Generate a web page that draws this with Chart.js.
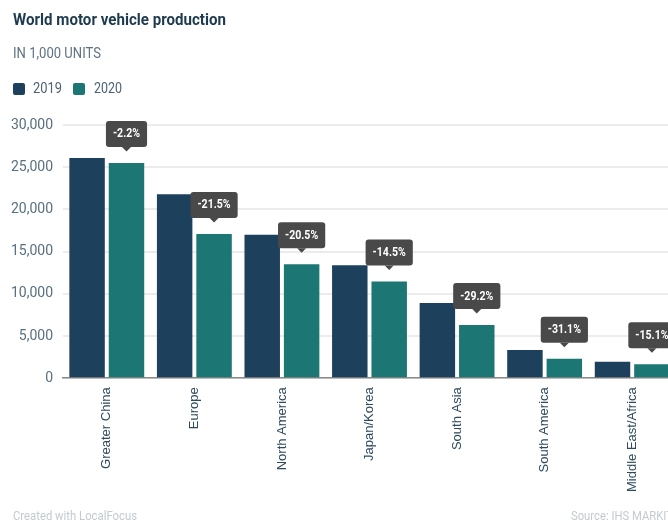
<!DOCTYPE html>
<html>
<head>
<meta charset="utf-8">
<script src="https://cdn.jsdelivr.net/npm/chart.js@4"></script>
<style>
  html, body { margin: 0; padding: 0; background: #fff; width: 668px; height: 524px; overflow: hidden; position: relative; font-family: Roboto, sans-serif; }
  .fit { position: absolute; white-space: nowrap; transform-origin: 0 0; }
  #title { left: 13px; top: 9px; font-size: 17px; font-weight: bold; color: #1e3a4f; }
  #sub { left: 13px; top: 45px; font-size: 14px; color: #5f7383; }
  .sw { position: absolute; top: 83px; width: 12px; height: 12px; border-radius: 2px; }
  .lg { top: 80px; font-size: 14px; color: #4d6272; }
  #foot1 { left: 13px; top: 509px; font-size: 12px; color: #c3cbd1; }
  #foot2 { left: 571px; top: 509px; font-size: 12px; color: #c3cbd1; }
  #wrap { position: absolute; left: 0; top: 0; width: 690px; height: 524px; }
</style>
</head>
<body>
<div id="wrap"><canvas id="c"></canvas></div>
<div id="title" class="fit" data-w="213">World motor vehicle production</div>
<div id="sub" class="fit" data-w="88">IN 1,000 UNITS</div>
<div class="sw" style="left:13px;background:#1d405d"></div>
<div class="fit lg" style="left:33px" data-w="29">2019</div>
<div class="sw" style="left:73px;background:#1c7774"></div>
<div class="fit lg" style="left:94px" data-w="28">2020</div>
<div id="foot1" class="fit" data-w="124">Created with LocalFocus</div>
<div id="foot2" class="fit" data-w="102">Source: IHS MARKIT</div>
<script>
const categories = ["Greater China", "Europe", "North America", "Japan/Korea", "South Asia", "South America", "Middle East/Africa"];
const values2019 = [26100, 21800, 17000, 13400, 8900, 3350, 1950];
const values2020 = [25500, 17100, 13500, 11450, 6300, 2310, 1650];
const changeLabels = ["-2.2%", "-21.5%", "-20.5%", "-14.5%", "-29.2%", "-31.1%", "-15.1%"];
const yTicks = [0, 5000, 10000, 15000, 20000, 25000, 30000];

document.querySelectorAll('.fit[data-w]').forEach(el => {
  const w = el.getBoundingClientRect().width;
  const t = parseFloat(el.dataset.w);
  el.style.transform = 'scaleX(' + (t / w) + ')';
});

const callouts = {
  id: 'callouts',
  afterDatasetsDraw(chart) {
    const ctx = chart.ctx;
    const meta = chart.getDatasetMeta(1);
    ctx.save();
    ctx.font = 'bold 12px Roboto';
    meta.data.forEach((bar, i) => {
      const txt = changeLabels[i];
      const tw = ctx.measureText(txt).width * 0.88;
      const w = tw + 14, h = 26;
      const cx = bar.x;
      const bottom = bar.y - 16;
      const top = bottom - h;
      const left = cx - w / 2;
      ctx.fillStyle = '#494949';
      ctx.beginPath();
      ctx.roundRect(left, top, w, h, 3);
      ctx.fill();
      ctx.beginPath();
      ctx.moveTo(cx - 4.5, bottom);
      ctx.lineTo(cx + 4.5, bottom);
      ctx.lineTo(cx, bottom + 4.5);
      ctx.closePath();
      ctx.fill();
      ctx.fillStyle = '#ffffff';
      ctx.textAlign = 'center';
      ctx.textBaseline = 'middle';
      ctx.save();
      ctx.translate(cx, top + h / 2 + 0.5);
      ctx.scale(0.88, 1);
      ctx.fillText(txt, 0, 0);
      ctx.restore();
    });
    ctx.restore();
  }
};

new Chart(document.getElementById('c'), {
  type: 'bar',
  data: {
    labels: categories,
    datasets: [
      { label: '2019', data: values2019, backgroundColor: '#1d405d', categoryPercentage: 0.9, barPercentage: 0.9 },
      { label: '2020', data: values2020, backgroundColor: '#1c7774', categoryPercentage: 0.9, barPercentage: 0.9 }
    ]
  },
  options: {
    responsive: true,
    maintainAspectRatio: false,
    animation: false,
    events: [],
    layout: { padding: { top: 125, right: 14, bottom: 23, left: 0 } },
    plugins: { legend: { display: false }, tooltip: { enabled: false } },
    scales: {
      x: {
        grid: { display: false, drawTicks: false },
        border: { display: true, color: '#8a8a8a', width: 1.5 },
        ticks: {
          color: '#2e4a5e',
          font: { family: 'Liberation Sans', size: 13 },
          minRotation: 90, maxRotation: 90, padding: 9, autoSkip: false
        }
      },
      y: {
        min: 0, max: 30000,
        afterFit(scale) { scale.width = 63; },
        afterBuildTicks(scale) { scale.ticks = yTicks.map(v => ({ value: v })); },
        grid: { color: '#ececec', lineWidth: 2, drawTicks: false },
        border: { display: false },
        ticks: {
          color: '#587080',
          font: { family: 'Roboto', size: 14 },
          padding: 10,
          callback: v => v.toLocaleString('en-US')
        }
      }
    }
  },
  plugins: [callouts]
});
</script>
</body>
</html>
